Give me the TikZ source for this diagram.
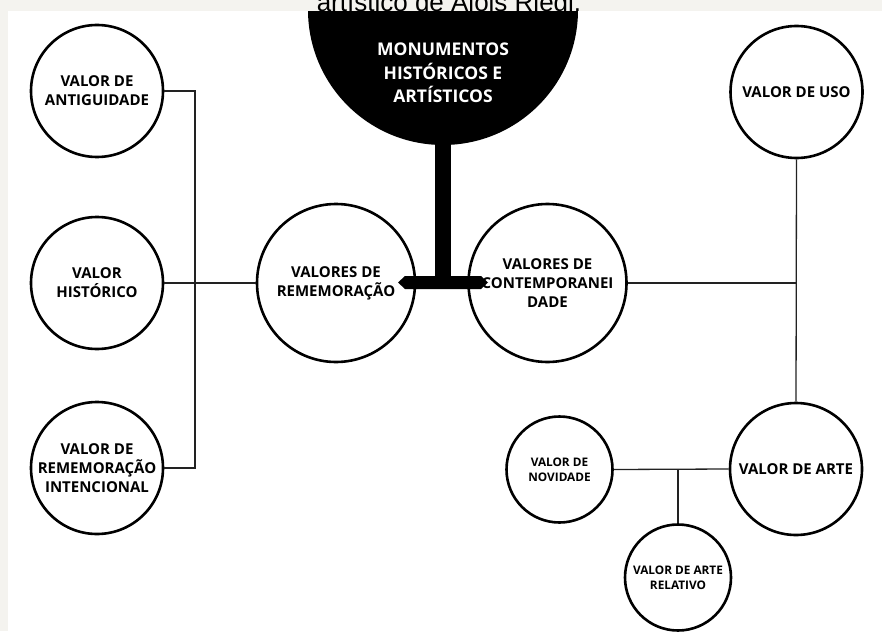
\documentclass[tikz,border=0pt]{standalone}
\usepackage{fontspec}
\setmainfont{Open Sans}
\newfontfamily\capfont{Liberation Sans}
\definecolor{band}{RGB}{244,243,239}
\definecolor{conn}{RGB}{34,34,34}
\begin{document}
\begin{tikzpicture}[x=1pt,y=-1pt,
  bigc/.style={circle,draw=black,line width=2.6pt,fill=white,inner sep=0pt,minimum size=158pt,align=center,font=\bfseries\fontsize{15}{19}\selectfont},
  midc/.style={circle,draw=black,line width=2.6pt,fill=white,inner sep=0pt,minimum size=132pt,align=center,font=\bfseries\fontsize{15}{19}\selectfont},
  smallc/.style={circle,draw=black,line width=2.6pt,fill=white,inner sep=0pt,minimum size=106pt,align=center,font=\bfseries\fontsize{11.8}{15}\selectfont},
  link/.style={draw=conn,line width=1.3pt}]
\useasboundingbox (0,0) rectangle (882,631);
\fill[white] (0,0) rectangle (882,631);
% connectors (drawn first, circles cover their ends)
\coordinate (lbus) at (195,283);
% nodes
\node[midc] (ant) at (97,91) {VALOR DE\\ANTIGUIDADE};
\node[midc] (his) at (97,283) {VALOR\\HISTÓRICO};
\node[midc] (int) at (97,468) {VALOR DE\\REMEMORAÇÃO\\INTENCIONAL};
\node[bigc] (rem) at (336,283) {VALORES DE\\REMEMORAÇÃO};
\node[bigc] (con) at (547.5,283) {VALORES DE\\CONTEMPORANEI\\DADE};
\node[midc] (uso) at (796.5,92) {VALOR DE USO};
\node[midc] (arte) at (796,469) {VALOR DE ARTE};
\node[smallc] (nov) at (559.5,469.5) {VALOR DE\\NOVIDADE};
\node[smallc] (rel) at (678,577.5) {VALOR DE ARTE\\RELATIVO};
% links
\draw[link] (ant.east) -- (ant.east -| lbus) -- (int.east -| lbus) -- (int.east);
\draw[link] (his.east) -- (rem.west);
\draw[link] (con.east) -- (con.east -| uso.south);
\draw[link] (uso.south) -- (arte.north);
\draw[link] (arte.west) -- (nov.east);
\draw[link] (rel.north) -- (rel.north |- arte.west);
% central monument
\fill[black] (443,10) circle (135);
\node[text=white,align=center,font=\bfseries\fontsize{17.5}{23.5}\selectfont] (mon) at (443,73) {MONUMENTOS\\HISTÓRICOS E\\ARTÍSTICOS};
\fill[black] (434.5,140) rectangle (451,279);
\fill[black] (398,282.5) -- (405,276) -- (481,276) -- (488,282.5) -- (481,289) -- (405,289) -- cycle;
% frame bands
\fill[band] (0,0) rectangle (882,11);
\fill[band] (0,0) rectangle (8,631);
\begin{scope}
\clip (0,0) rectangle (882,11);
\node[anchor=base,inner sep=0pt,font=\capfont\fontsize{26}{30}\selectfont] (cap) at (449,12) {artístico de Alois Riegl.};
\end{scope}
\end{tikzpicture}
\end{document}
